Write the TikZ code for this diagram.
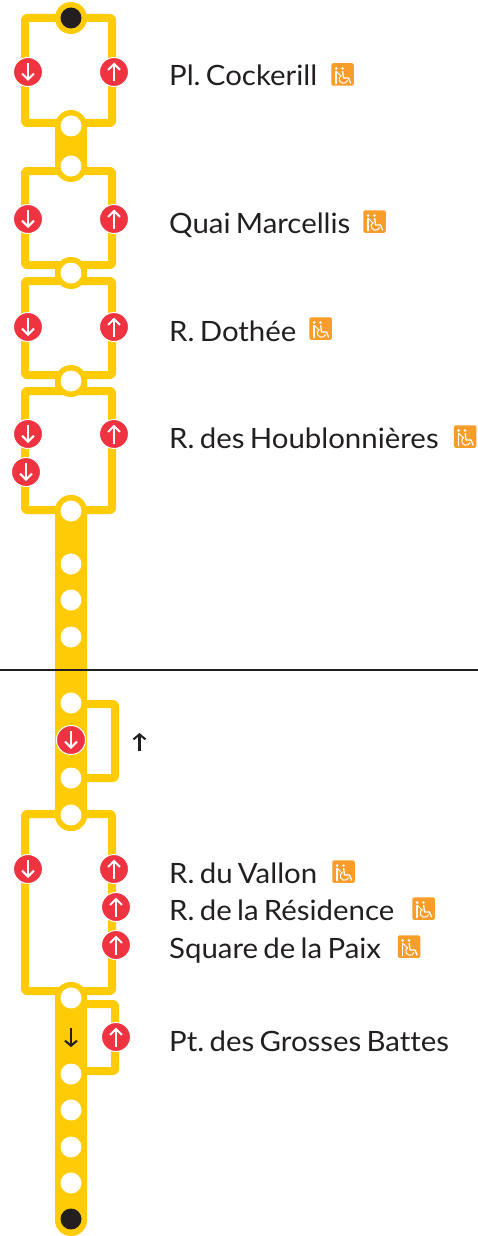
\documentclass[tikz,border=0pt]{standalone}
\usepackage{fontspec}
\setmainfont[FakeStretch=1.05,WordSpace=0.7]{Lato}
\usetikzlibrary{arrows.meta}
\definecolor{ly}{HTML}{FFCB05}
\definecolor{lr}{HTML}{EF3340}
\definecolor{lk}{HTML}{231F20}
\definecolor{lo}{HTML}{F99D2A}
\tikzset{
  rail/.style={draw=ly,line width=8pt,rounded corners=2pt,line join=round},
  halt/.style={circle,fill=white,minimum size=21pt,inner sep=0pt},
  term/.style={circle,fill=lk,minimum size=21pt,inner sep=0pt},
  halo/.style={circle,fill=ly,minimum size=32pt,inner sep=0pt},
  stoplabel/.style={anchor=base west,inner sep=0pt,font=\fontsize{28}{28}\selectfont,text=lk},
  redstop/.style={circle,fill=lr,draw=white,line width=1pt,minimum size=29pt,inner sep=0pt},
  wharrow/.style={draw=white,line width=2pt,-{Straight Barb[length=6pt,width=12pt,line width=2pt]}},
  bkarrow/.style={draw=lk,line width=2.1pt,-{Straight Barb[length=5pt,width=12pt,line width=2.1pt]}},
  pmr/.style={fill=lo,rounded corners=1.5pt,minimum size=22.5pt,inner sep=0pt},
}
\newcommand{\rstop}[4]{%
  \node[redstop] (#1) at (#2,#3) {};
  \ifnum#4=1
    \draw[wharrow] ([yshift=-9.5pt]#1.center) -- ([yshift=9.5pt]#1.center);
  \else
    \draw[wharrow] ([yshift=9pt]#1.center) -- ([yshift=-9pt]#1.center);
  \fi}
\newcommand{\pmrsign}[3]{%
  \node[pmr] (#1) at (#2,#3) {};
  \begin{scope}[shift={(#2,#3)}]
    \fill[white] (-6.4,-6) circle (1.5);
    \draw[white,line width=1.6pt,line cap=round] (-6.4,-3) -- (-6.4,9);
    \draw[white,line width=1pt,line cap=round] (-6,-3) -- (-1.5,1.5);
    \fill[white] (0,-6) circle (1.4);
    \draw[white,line width=1.3pt,line cap=round,line join=round] (0.2,-3) -- (1,3.5) -- (6,3.5) -- (8,8.5);
    \draw[white,line width=1pt] (-1.15,0.78) arc[start angle=240,end angle=20,radius=4.3];
  \end{scope}}
\begin{document}
\begin{tikzpicture}[x=1pt,y=-1pt]
\useasboundingbox (0,0) rectangle (478,1236);
% trunk
\fill[ly] (55,126) rectangle (87,166);
\fill[ly] (55,265) rectangle (87,281);
\fill[ly] (55,375) rectangle (87,391);
\fill[ly,rounded corners=15.9pt] (55,495) -- (87,495) -- (87,831) -- (55,831) -- cycle;
\fill[ly,rounded corners=15.9pt] (55,982) -- (87,982) -- (87,1236) -- (55,1236) -- cycle;
% loops
\draw[rail] (71,18) -| (25,123) -- (112,123) |- (71,18);
\draw[rail] (71,171) -| (25,265) -- (112,265) |- (71,171);
\draw[rail] (71,281) -| (25,375) -- (112,375) |- (71,281);
\draw[rail] (71,391) -| (25,510) -- (112,510) |- (71,391);
\draw[rail] (80,704) -| (115,778) -- (80,778);
\draw[rail] (71,814) -| (25,991) -- (112,991) |- (71,814);
\draw[rail] (80,1004) -| (115,1071) -- (80,1071);
% halos
\foreach \n/\y in {h1/18,h2/126,h3/166,h4/273,h6/381,h8/511,h9/815,h10/998}
  \node[halo] (\n) at (71,\y) {};
\node[term] (t1) at (71,18) {};
\foreach \n/\y in {a/126,b/166,c/273,d/381,e/511,f/564,g/600,i/637,j/703,k/778,l/815,m/998,n/1074,o/1110,p/1147,q/1183}
  \node[halt] (\n) at (71,\y) {};
\node[term] (t2) at (71,1219) {};
% rule
\coordinate (rl) at (0,670);
\coordinate (rr) at (478,670);
\draw[lk,line width=1.6pt] (rl) -- (rr);
% red stops
\rstop{r1}{28}{72}{0}
\rstop{r2}{114}{72}{1}
\rstop{r3}{28}{219}{0}
\rstop{r4}{114}{219}{1}
\rstop{r5}{28}{327}{0}
\rstop{r6}{114}{327}{1}
\rstop{r7}{28}{434}{0}
\rstop{r8}{114}{434}{1}
\rstop{r9}{26}{472}{0}
\rstop{r10}{71}{740}{0}
\rstop{r11}{28}{869}{0}
\rstop{r12}{114}{869}{1}
\rstop{r13}{116}{907}{1}
\rstop{r14}{116}{945}{1}
\rstop{r15}{116}{1037}{1}
% black arrows
\coordinate (ua) at (139.5,751);
\coordinate (ub) at (139.5,733);
\draw[bkarrow] (ua) -- (ub);
\coordinate (da) at (71,1028);
\coordinate (db) at (71,1047);
\draw[bkarrow] (da) -- (db);
% labels
\node[stoplabel] (s1) at (169,86) {Pl.\kern-2.5pt{} Cockerill};
\node[stoplabel] (s2) at (169,233) {Quai Marcellis};
\node[stoplabel] (s3) at (169,341) {R. Dothée};
\node[stoplabel] (s4) at (169,448) {R. des Houblonnières};
\node[stoplabel] (s5) at (169,883) {R. du Vallon};
\node[stoplabel] (s6) at (169,920) {R. de la Résidence};
\node[stoplabel] (s7) at (169,958) {Square de la Paix};
\node[stoplabel] (s8) at (169,1051) {Pt.\kern-2.5pt{} des Grosses Bat\kern0pt tes};
% PMR
\pmrsign{p1}{342.5}{74.5}
\pmrsign{p2}{374.5}{221.5}
\pmrsign{p3}{320.5}{328.5}
\pmrsign{p4}{465}{436.5}
\pmrsign{p5}{343.5}{871.5}
\pmrsign{p6}{423.5}{908.5}
\pmrsign{p7}{409}{946.5}
\end{tikzpicture}
\end{document}
